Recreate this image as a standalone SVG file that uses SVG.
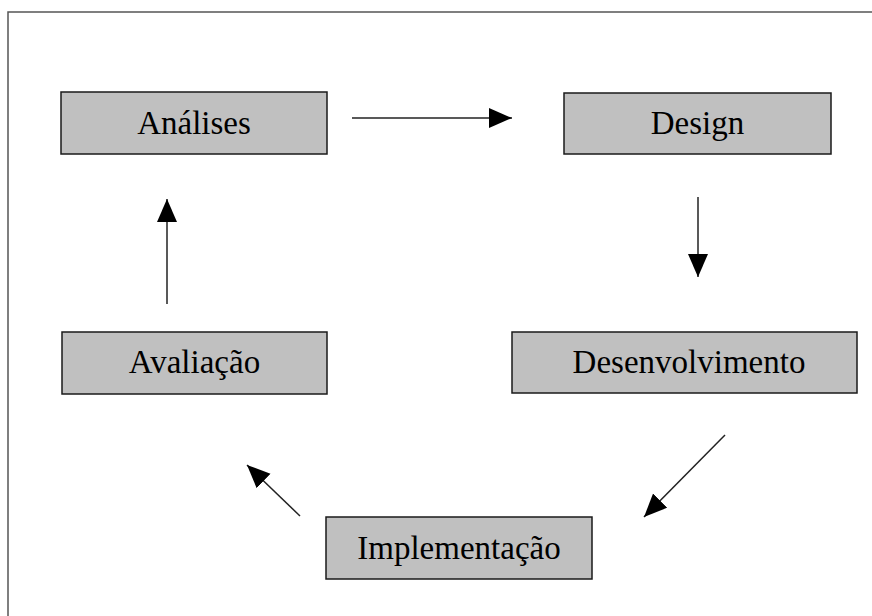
<svg xmlns="http://www.w3.org/2000/svg" width="872" height="616" viewBox="0 0 872 616">
  <style>
    .box { fill: #c0c0c0; stroke: #1a1a1a; stroke-width: 1.5; }
    .label { font-family: 'Liberation Serif', 'DejaVu Serif', serif; font-size: 33px; fill: #000; text-anchor: middle; }
    .link { stroke: #222; stroke-width: 1.5; fill: none; marker-end: url(#head); }
  </style>
  <defs>
    <marker id="head" markerUnits="userSpaceOnUse" markerWidth="24" markerHeight="21" refX="23" refY="10" orient="auto">
      <path d="M0,0 L23,10 L0,20 Z" fill="#000"/>
    </marker>
  </defs>

  <rect width="872" height="616" fill="#fff"/>
  <!-- page frame -->
  <path d="M8,616 V12 H872" fill="none" stroke="#555" stroke-width="1.5"/>

  <g id="analises">
    <rect class="box" x="61" y="92" width="266" height="62"/>
    <text class="label" x="194" y="134" font-family="Liberation Serif, serif">Análises</text>
  </g>
  <g id="design">
    <rect class="box" x="564" y="93" width="267" height="61"/>
    <text class="label" x="697.5" y="134" font-family="Liberation Serif, serif">Design</text>
  </g>
  <g id="desenvolvimento">
    <rect class="box" x="512" y="332" width="345" height="61"/>
    <text class="label" x="689" y="373" font-family="Liberation Serif, serif">Desenvolvimento</text>
  </g>
  <g id="implementacao">
    <rect class="box" x="326" y="517" width="266" height="62"/>
    <text class="label" x="459" y="559" font-family="Liberation Serif, serif">Implementação</text>
  </g>
  <g id="avaliacao">
    <rect class="box" x="62" y="332" width="265" height="62"/>
    <text class="label" x="194.5" y="373" font-family="Liberation Serif, serif">Avaliação</text>
  </g>

  <g id="connectors">
    <line class="link" x1="352" y1="118" x2="512" y2="118"/>
    <line class="link" x1="698" y1="197" x2="698" y2="277"/>
    <line class="link" x1="725" y1="435" x2="644" y2="517"/>
    <line class="link" x1="300" y1="516" x2="247" y2="465"/>
    <line class="link" x1="167" y1="304" x2="167" y2="199"/>
  </g>
</svg>
